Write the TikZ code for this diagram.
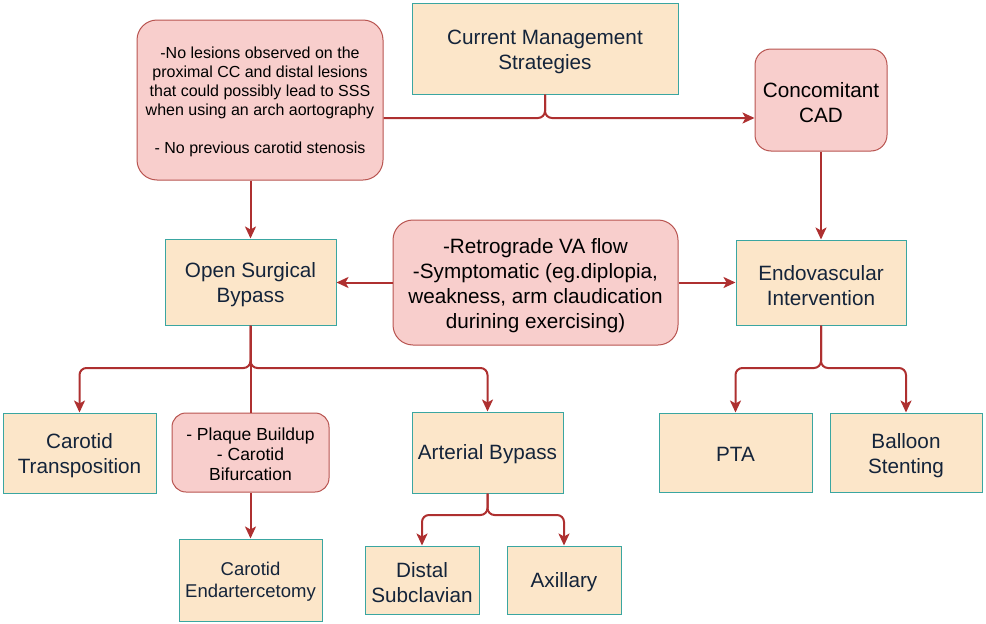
\documentclass[tikz,border=0pt]{standalone}
\usepackage{fontspec}
\setmainfont{Liberation Sans}
\usetikzlibrary{arrows.meta}
\definecolor{beige}{HTML}{FCE6C9}
\definecolor{teal}{HTML}{3AA6A1}
\definecolor{pinkf}{HTML}{F8CECC}
\definecolor{pinkd}{HTML}{B85450}
\definecolor{conc}{HTML}{AE3030}
\definecolor{navy}{HTML}{14243A}
\tikzset{
  bbox/.style={draw=teal, line width=1pt, fill=beige, inner sep=0pt},
  pbox/.style={draw=pinkd, line width=1pt, fill=pinkf, inner sep=0pt, rounded corners=20pt},
  btxt/.style={text=navy, align=center, inner sep=0pt, font=\fontsize{20.7}{25}\selectfont},
  ptxt/.style={text=black, align=center, inner sep=0pt, font=\fontsize{20.7}{25}\selectfont},
  conn/.style={draw=conc, line width=2pt, rounded corners=7pt, -{Stealth[length=12pt,width=11pt,inset=3pt]}},
  plain/.style={draw=conc, line width=2pt, rounded corners=7pt}
}
\begin{document}
\begin{tikzpicture}[x=1pt,y=-1pt]
\useasboundingbox (0,0) rectangle (986,624);
% boxes
\node[bbox, minimum width=266pt, minimum height=91pt] (cms) at (545,48.5) {};
\node[pbox, minimum width=246pt, minimum height=160pt] (lp) at (260,100) {};
\node[pbox, minimum width=132pt, minimum height=102pt, rounded corners=16pt] (cad) at (821,100) {};
\node[bbox, minimum width=171pt, minimum height=86pt] (osb) at (250.5,282) {};
\node[pbox, minimum width=285pt, minimum height=125pt] (mp) at (535.5,282.5) {};
\node[bbox, minimum width=170pt, minimum height=85pt] (endo) at (821,282.5) {};
\node[bbox, minimum width=153pt, minimum height=80pt] (ct) at (79.5,453) {};
\node[pbox, minimum width=157pt, minimum height=79pt, rounded corners=14pt] (pb) at (250.5,452.5) {};
\node[bbox, minimum width=151pt, minimum height=81pt] (ab) at (487.5,452.5) {};
\node[bbox, minimum width=153pt, minimum height=79pt] (pta) at (735.5,452.5) {};
\node[bbox, minimum width=152pt, minimum height=79pt] (bs) at (906,452.5) {};
\node[bbox, minimum width=143pt, minimum height=82pt] (ce) at (250.5,580) {};
\node[bbox, minimum width=114pt, minimum height=68pt] (ds) at (422,580) {};
\node[bbox, minimum width=114pt, minimum height=68pt] (ax) at (564,580) {};
% texts
\node[btxt] (cms-t) at ([yshift=-3.5pt]cms.center) {Current Management\\Strategies};
\node[ptxt, font=\fontsize{16}{19}\selectfont] (lp-t) at ([yshift=-2pt]lp.center)
  {-No lesions observed on the\\proximal CC and distal lesions\\that could possibly lead to SSS\\when using an arch aortography\\\mbox{}\\- No previous carotid stenosis};
\node[ptxt] (cad-t) at ([yshift=-3pt]cad.center) {Concomitant\\CAD};
\node[btxt] (osb-t) at ([yshift=-3pt]osb.center) {Open Surgical\\Bypass};
\node[ptxt] (mp-t) at ([yshift=-3pt]mp.center)
  {-Retrograde VA flow\\-Symptomatic (eg.diplopia,\\weakness, arm claudication\\durining exercising)};
\node[btxt] (endo-t) at ([yshift=-3pt]endo.center) {Endovascular\\Intervention};
\node[btxt] (ct-t) at ([yshift=-3pt]ct.center) {Carotid\\Transposition};
\node[ptxt, font=\fontsize{17.5}{20}\selectfont] (pb-t) at ([yshift=-2pt]pb.center) {- Plaque Buildup\\- Carotid\\Bifurcation};
\node[btxt] (ab-t) at ([yshift=-2pt]ab.center) {Arterial Bypass};
\node[btxt] (pta-t) at ([yshift=-2pt]pta.center) {PTA};
\node[btxt] (bs-t) at ([yshift=-3pt]bs.center) {Balloon\\Stenting};
\node[btxt, font=\fontsize{18.5}{22}\selectfont] (ce-t) at ([yshift=-2pt]ce.center) {Carotid\\Endartercetomy};
\node[btxt] (ds-t) at ([yshift=-3pt]ds.center) {Distal\\Subclavian};
\node[btxt] (ax-t) at ([yshift=-2pt]ax.center) {Axillary};
% connectors
\coordinate (h1) at (0,118);
\coordinate (h2) at (0,368);
\coordinate (h3) at (0,515);
\draw[plain] (cms.south) |- (lp.east |- h1);
\draw[conn] (cms.south) |- (cad.west |- h1);
\draw[conn] (lp.south -| osb.north) -- (osb.north);
\draw[conn] (cad.south) -- (endo.north);
\draw[conn] (mp.west) -- (osb.east |- mp.west);
\draw[conn] (mp.east) -- (endo.west |- mp.east);
\draw[plain] (osb.south) -- (pb.north);
\draw[conn] (osb.south) -- (osb.south |- h2) -| (ct.north);
\draw[conn] (osb.south) -- (osb.south |- h2) -| (ab.north);
\draw[conn] (pb.south) -- (ce.north);
\draw[conn] (ab.south) -- (ab.south |- h3) -| (ds.north);
\draw[conn] (ab.south) -- (ab.south |- h3) -| (ax.north);
\draw[conn] (endo.south) -- (endo.south |- h2) -| (pta.north);
\draw[conn] (endo.south) -- (endo.south |- h2) -| (bs.north);
\end{tikzpicture}
\end{document}
